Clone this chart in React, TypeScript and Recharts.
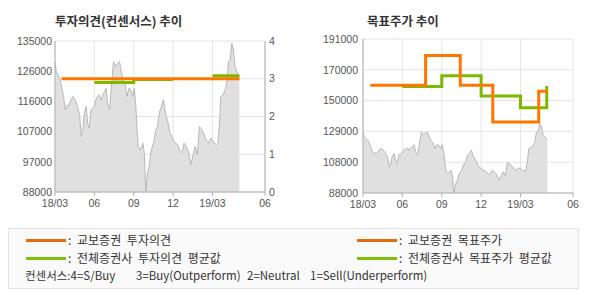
import React from 'react';
import { ComposedChart, Area, Line, XAxis, YAxis, CartesianGrid } from 'recharts';

// x positions are months since 2018/03
const monthTicks = [0, 3, 6, 9, 12, 16];
const monthTickLabels = ['18/03', '06', '09', '12', '19/03', '06'];

const priceMonths = [0, 0.1, 0.4, 0.53, 0.65, 0.78, 0.91, 1.04, 1.22, 1.37, 1.54, 1.72, 1.87, 2.0, 2.13, 2.23, 2.38, 2.48, 2.61, 2.74, 2.86, 2.99, 3.12, 3.24, 3.37, 3.5, 3.7, 3.9, 4.0, 4.16, 4.34, 4.46, 4.61, 4.76, 4.92, 5.02, 5.18, 5.35, 5.48, 5.63, 5.78, 5.94, 6.04, 6.16, 6.24, 6.34, 6.49, 6.7, 6.8, 6.93, 7.05, 7.18, 7.31, 7.5, 7.69, 7.81, 7.96, 8.11, 8.26, 8.37, 8.47, 8.6, 8.77, 8.9, 9.03, 9.23, 9.41, 9.54, 9.67, 9.84, 9.99, 10.17, 10.35, 10.5, 10.68, 10.85, 11.0, 11.19, 11.36, 11.51, 11.69, 11.87, 12.07, 12.28, 12.4, 12.53, 12.63, 12.79, 12.96, 13.09, 13.21, 13.34, 13.47, 13.59, 13.72, 13.85, 14.05];
const priceValues = [128300, 125500, 122900, 120300, 117700, 113600, 115100, 114800, 116700, 117700, 116700, 114600, 112000, 105300, 107900, 112500, 114600, 109400, 107900, 113600, 114100, 114600, 116700, 117700, 118200, 116700, 118700, 120300, 115600, 113600, 122900, 128600, 127000, 128100, 128600, 126000, 122900, 121300, 117700, 120300, 119800, 117700, 120300, 114600, 108400, 102200, 101100, 103200, 100100, 88200, 93900, 96000, 100600, 103200, 107400, 108400, 113000, 114600, 116700, 113600, 111500, 109900, 106300, 105300, 103700, 103200, 102200, 100600, 100100, 103200, 102200, 100600, 96500, 99100, 102200, 99600, 108400, 107400, 105800, 104200, 103200, 104800, 103700, 102700, 103200, 109400, 117700, 118200, 119800, 121900, 128600, 129100, 134300, 132200, 127000, 125500, 123900];

// 투자의견 (consensus 0-4)
const kyoboOpinionMonths = [0.5, 14.05];
const kyoboOpinionValues = [3, 3];
const avgOpinionMonths = [3, 6, 9, 10, 12, 14.05];
const avgOpinionValues: (number | null)[] = [2.9, 2.98, 2.98, null, 3.08, 3.08];

// 목표주가
const kyoboTargetMonths = [0.56, 4.77, 7.41, 9.89, 13.39, 14.05];
const kyoboTargetValues = [160000, 180000, 160000, 135500, 156000, 156000];
const avgTargetMonths = [3, 6, 9, 12, 14.0];
const avgTargetValues = [159300, 166400, 152900, 145100, 159500];

const leftPriceTicks = [88000, 97400, 106800, 116200, 125600, 135000];
const leftPriceTickLabels = ['88000', '97000', '107000', '116000', '126000', '135000'];
const opinionTicks = [0, 1, 2, 3, 4];
const targetTicks = [88000, 108600, 129200, 149800, 170400, 191000];
const targetTickLabels = ['88000', '108000', '129000', '150000', '170000', '191000'];

const priceData = priceMonths.map((m, i) => ({ x: m, p: priceValues[i] }));
const toSeries = (xs: number[], vs: (number | null)[]) => xs.map((x, i) => ({ x, v: vs[i] }));

const ORANGE = '#ff7500';
const GREEN = '#7cba00';
const AXIS = '#b0b0b0';
const GRID = '#e4e4e4';
const tickStyle = { fontFamily: '"Liberation Sans", Arial, sans-serif', fontSize: 10.5, fill: '#555' };
const KR = '"Noto Sans CJK KR", "Noto Sans", sans-serif';

function XAx() {
  return (
    <XAxis
      dataKey="x"
      type="number"
      domain={[0, 16]}
      ticks={monthTicks}
      interval={0}
      allowDataOverflow
      tickFormatter={(v: number, i: number) => monthTickLabels[i]}
      tick={tickStyle}
      axisLine={{ stroke: AXIS }}
      tickLine={{ stroke: AXIS }}
      tickSize={4}
      tickMargin={4}
      height={23}
    />
  );
}

function OpinionChart() {
  return (
    <ComposedChart width={290} height={215} data={priceData} margin={{ top: 41, right: 0, bottom: 0, left: 0 }}>
      <CartesianGrid yAxisId="right" stroke={GRID} />
      {XAx()}
      <YAxis
        yAxisId="left"
        orientation="left"
        width={55}
        domain={[88000, 135000]}
        ticks={leftPriceTicks}
        interval={0}
        allowDataOverflow
        tickFormatter={(v: number, i: number) => leftPriceTickLabels[i]}
        tick={tickStyle}
        axisLine={{ stroke: AXIS }}
        tickLine={false}
        tickSize={3}
        tickMargin={0}
      />
      <YAxis
        yAxisId="right"
        orientation="right"
        width={25}
        domain={[0, 4]}
        ticks={opinionTicks}
        interval={0}
        tick={tickStyle}
        axisLine={{ stroke: AXIS }}
        tickLine={false}
        tickSize={4}
        tickMargin={0}
      />
      <Area yAxisId="left" dataKey="p" type="linear" stroke="#b8b8b8" strokeWidth={1} fill="#e0e0e0" fillOpacity={1} dot={false} activeDot={false} isAnimationActive={false} />
      <Line yAxisId="right" data={toSeries(avgOpinionMonths, avgOpinionValues)} dataKey="v" type="stepAfter" stroke={GREEN} strokeWidth={3} dot={false} activeDot={false} isAnimationActive={false} />
      <Line yAxisId="right" data={toSeries(kyoboOpinionMonths, kyoboOpinionValues)} dataKey="v" type="stepAfter" stroke={ORANGE} strokeWidth={3} dot={false} activeDot={false} isAnimationActive={false} />
    </ComposedChart>
  );
}

function TargetChart() {
  return (
    <ComposedChart width={295} height={216} data={priceData} margin={{ top: 39, right: 17, bottom: 0, left: 0 }}>
      <CartesianGrid yAxisId="left" stroke={GRID} />
      {XAx()}
      <YAxis
        yAxisId="left"
        orientation="left"
        width={68}
        domain={[88000, 191000]}
        ticks={targetTicks}
        interval={0}
        allowDataOverflow
        tickFormatter={(v: number, i: number) => targetTickLabels[i]}
        tick={tickStyle}
        axisLine={{ stroke: AXIS }}
        tickLine={false}
        tickSize={5}
        tickMargin={0}
      />
      <Area yAxisId="left" dataKey="p" type="linear" stroke="#b8b8b8" strokeWidth={1} fill="#e0e0e0" fillOpacity={1} dot={false} activeDot={false} isAnimationActive={false} />
      <Line yAxisId="left" data={toSeries(avgTargetMonths, avgTargetValues)} dataKey="v" type="stepAfter" stroke={GREEN} strokeWidth={3} dot={false} activeDot={false} isAnimationActive={false} />
      <Line yAxisId="left" data={toSeries(kyoboTargetMonths, kyoboTargetValues)} dataKey="v" type="stepAfter" stroke={ORANGE} strokeWidth={3} dot={false} activeDot={false} isAnimationActive={false} />
    </ComposedChart>
  );
}

const legendRows = [
  { color: '#e8690c', x: 26, y: 240, label: ': 교보증권 투자의견' },
  { color: '#7fbf10', x: 26, y: 258, label: ': 전체증권사 투자의견 평균값' },
  { color: '#e8690c', x: 357, y: 240, label: ': 교보증권 목표주가' },
  { color: '#7fbf10', x: 357, y: 258, label: ': 전체증권사 목표주가 평균값' },
];
const consensusNotes = [
  { x: 25, text: '컨센서스:4=S/Buy' },
  { x: 136, text: '3=Buy(Outperform)' },
  { x: 247, text: '2=Neutral' },
  { x: 310, text: '1=Sell(Underperform)' },
];

export default function App() {
  return (
    <div style={{ position: 'absolute', left: 0, top: 0, width: 590, height: 300, background: '#fff', overflow: 'hidden' }}>
      <div style={{ position: 'absolute', left: 55, top: 12.5, fontFamily: KR, fontWeight: 700, fontSize: 12.5, lineHeight: '15px', color: '#333', whiteSpace: 'pre' }}>
        투자의견(컨센서스) 추이
      </div>
      <div style={{ position: 'absolute', left: 367, top: 13, fontFamily: KR, fontWeight: 700, fontSize: 12.5, lineHeight: '15px', color: '#333', whiteSpace: 'pre' }}>
        목표주가 추이
      </div>
      <div style={{ position: 'absolute', left: 0, top: 0 }}>
        <OpinionChart />
      </div>
      <div style={{ position: 'absolute', left: 295, top: 0 }}>
        <TargetChart />
      </div>
      <div style={{ position: 'absolute', left: 8, top: 228, width: 571, height: 61, boxSizing: 'border-box', border: '1px solid #e2e2e2', background: '#fafafa' }} />
      {legendRows.map((r, i) => (
        <React.Fragment key={i}>
          <div style={{ position: 'absolute', left: r.x, top: r.y - 1.5, width: 40, height: 3, background: r.color }} />
          <div style={{ position: 'absolute', left: r.x + 42, top: r.y - 8, fontFamily: KR, fontSize: 12, lineHeight: '16px', color: '#333', whiteSpace: 'pre', wordSpacing: 3 }}>
            {r.label}
          </div>
        </React.Fragment>
      ))}
      {consensusNotes.map((n, i) => (
        <div key={i} style={{ position: 'absolute', left: n.x, top: 267, fontFamily: KR, fontSize: 11.5, lineHeight: '16px', color: '#333', whiteSpace: 'pre' }}>
          {n.text}
        </div>
      ))}
    </div>
  );
}
